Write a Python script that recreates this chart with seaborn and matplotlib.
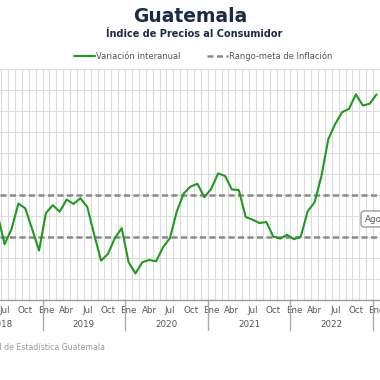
import pandas as pd
import matplotlib.pyplot as plt
import seaborn as sns
from matplotlib.patches import FancyBboxPatch
from matplotlib.transforms import blended_transform_factory

# Monthly year-on-year CPI variation (%), Jun 2018 - Jan 2023
meses = ["Ene", "Feb", "Mar", "Abr", "May", "Jun",
         "Jul", "Ago", "Sep", "Oct", "Nov", "Dic"]
v2018 = [4.02, 2.63, 3.35, 4.57, 4.34, 3.35, 2.33]          # Jun-Dic
v2019 = [4.12, 4.49, 4.18, 4.76, 4.55, 4.82, 4.41, 3.10, 1.85, 2.17, 2.92, 3.40]
v2020 = [1.77, 1.24, 1.78, 1.88, 1.82, 2.49, 2.92, 4.20, 5.05, 5.38, 5.51, 4.87]
v2021 = [5.27, 6.01, 5.88, 5.24, 5.21, 3.93, 3.80, 3.64, 3.69, 3.00, 2.90, 3.08]
v2022 = [2.87, 3.00, 4.20, 4.63, 5.88, 7.64, 8.36, 8.92, 9.08, 9.77, 9.24, 9.32]
v2023 = [9.77]                                                # Ene
anios = [2018, 2019, 2020, 2021, 2022]
meta_sup = 5
meta_inf = 3

# Build table
filas = []
for anio, vals, m0 in [(2018, v2018, 5), (2019, v2019, 0), (2020, v2020, 0),
                       (2021, v2021, 0), (2022, v2022, 0), (2023, v2023, 0)]:
    for k, v in enumerate(vals):
        filas.append({"anio": anio, "mes": meses[m0 + k], "valor": v})
ipc = pd.DataFrame(filas)
ipc["pos"] = range(len(ipc))

sns.set_style("white")
plt.rcParams["font.family"] = ["DejaVu Sans"]

verde = "#1f9a1f"
gris = "#8a8a8a"
navy = "#1b2a47"

fig = plt.figure(figsize=(3.8, 3.8), dpi=100)
ax = fig.add_axes([0, 1 - 299.5 / 380, 1, 231 / 380])

# px -> position: pixel = 42.7 + (pos - 6.5) * 6.92
ax.set_xlim(6.5 - 42.7 / 6.92, 6.5 + (380 - 42.7) / 6.92)
ax.set_ylim(0, 11)

ax.axhline(meta_sup, color=gris, lw=1.8, ls=(0, (2.4, 1.4)), label="Rango-meta de Inflación", zorder=2)
ax.axhline(meta_inf, color=gris, lw=1.8, ls=(0, (2.4, 1.4)), zorder=2)
sns.lineplot(data=ipc, x="pos", y="valor", color=verde, lw=1.5, ax=ax,
             label="Variación interanual", zorder=3)

# Grid
ax.set_yticks(range(0, 12))
ax.set_yticklabels([])
ax.set_xticks([p + 0.5 for p in ipc["pos"]], minor=True)
ax.grid(True, axis="y", color="#dcdcdc", lw=0.8)
ax.grid(True, axis="x", which="minor", color="#dcdcdc", lw=0.8)
ax.tick_params(axis="y", length=0)
ax.tick_params(axis="x", which="both", length=0)

# Month labels
sel = ipc[ipc["mes"].isin(["Ene", "Abr", "Jul", "Oct"])]
ax.set_xticks(sel["pos"])
ax.set_xticklabels(sel["mes"], fontsize=6.3, color="#555555")
ax.tick_params(axis="x", pad=5)
ax.set_xlabel("")
ax.set_ylabel("")

for s in ["left", "right", "top"]:
    ax.spines[s].set_visible(False)
ax.spines["bottom"].set_color("#999999")
ax.spines["bottom"].set_linewidth(1)

# Year separators and labels
tr = blended_transform_factory(ax.transData, ax.transAxes)
enes = ipc[ipc["mes"] == "Ene"]["pos"].tolist()
for p in enes:
    ax.plot([p - 0.5, p - 0.5], [0, -0.133], color="#aaaaaa", lw=1,
            transform=tr, clip_on=False)
for anio in anios:
    ps = ipc[ipc["anio"] == anio]["pos"]
    centro = ps.min() + 5.5 - (12 - len(ps)) if anio == 2018 else ps.min() + 5.5
    ax.text(centro, -0.108, str(anio), transform=tr, ha="center", va="center",
            fontsize=6.3, color="#555555", clip_on=False)

ax.get_legend().remove()
handles, labels = ax.get_legend_handles_labels()
orden = [labels.index("Variación interanual"), labels.index("Rango-meta de Inflación")]
fig.legend([handles[i] for i in orden], [labels[i] for i in orden],
           loc="center", bbox_to_anchor=(0.535, 1 - 56 / 380), ncol=2, frameon=False,
           fontsize=6, handlelength=2.5, handletextpad=0.15, columnspacing=3.2,
           labelcolor="#555555")

# Titles
fig.text(0.5, 1 - 16 / 380, "Guatemala", ha="center", va="center",
         fontsize=13.5, fontweight="bold", color=navy)
fig.text(0.51, 1 - 34 / 380, "Índice de Precios al Consumidor", ha="center",
         va="center", fontsize=7, fontweight="bold", color=navy)

# Tooltip (partly visible)
caja = FancyBboxPatch((361 / 380, 1 - 227 / 380), 60 / 380, 16 / 380,
                      boxstyle="round,pad=0,rounding_size=0.008",
                      transform=fig.transFigure, facecolor="white",
                      edgecolor="#999999", lw=1, zorder=5)
fig.patches.append(caja)
fig.text(365 / 380, 1 - 219 / 380, "Ago", ha="left", va="center",
         fontsize=6.3, color="#555555", zorder=6)

# Source
fig.text(105 / 380, 1 - 347 / 380, "Fuente: Instituto Nacional de Estadística Guatemala",
         ha="right", va="center", fontsize=5.6, color="#999999")

fig.savefig("out.png", dpi=100)
